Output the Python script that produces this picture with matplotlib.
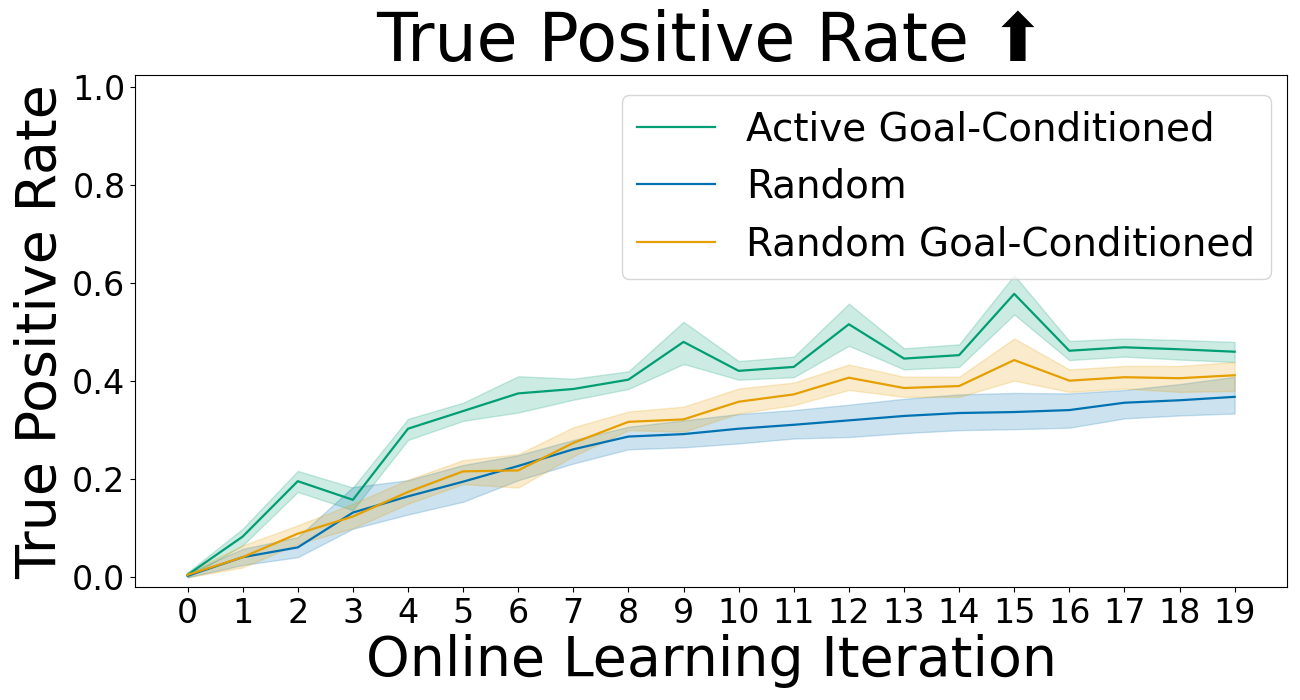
import matplotlib
matplotlib.use("Agg")
import matplotlib.pyplot as plt
import numpy as np

iterations = list(range(20))

active_gc_mean = [0.005, 0.083, 0.196, 0.158, 0.303, 0.339, 0.375, 0.384, 0.403, 0.480,
                  0.421, 0.429, 0.516, 0.446, 0.453, 0.578, 0.462, 0.469, 0.465, 0.460]
active_gc_low = [0.000, 0.065, 0.174, 0.137, 0.280, 0.319, 0.336, 0.362, 0.384, 0.435,
                 0.403, 0.408, 0.472, 0.424, 0.429, 0.536, 0.443, 0.450, 0.444, 0.439]
active_gc_high = [0.010, 0.099, 0.217, 0.183, 0.323, 0.356, 0.410, 0.405, 0.420, 0.521,
                  0.441, 0.450, 0.558, 0.467, 0.475, 0.616, 0.482, 0.487, 0.484, 0.480]

random_mean = [0.003, 0.041, 0.061, 0.132, 0.165, 0.195, 0.227, 0.261, 0.287, 0.292,
               0.303, 0.311, 0.320, 0.329, 0.335, 0.337, 0.341, 0.356, 0.361, 0.368]
random_low = [0.000, 0.025, 0.041, 0.099, 0.128, 0.154, 0.198, 0.232, 0.261, 0.265,
              0.273, 0.283, 0.286, 0.294, 0.300, 0.302, 0.305, 0.324, 0.330, 0.334]
random_high = [0.008, 0.058, 0.082, 0.184, 0.198, 0.229, 0.249, 0.280, 0.307, 0.320,
               0.333, 0.341, 0.352, 0.364, 0.373, 0.376, 0.375, 0.382, 0.394, 0.409]

random_gc_mean = [0.005, 0.041, 0.089, 0.124, 0.174, 0.216, 0.218, 0.274, 0.317, 0.322,
                  0.358, 0.373, 0.407, 0.386, 0.390, 0.443, 0.401, 0.408, 0.406, 0.412]
random_gc_low = [0.000, 0.020, 0.068, 0.100, 0.150, 0.190, 0.183, 0.247, 0.300, 0.297,
                 0.334, 0.351, 0.382, 0.368, 0.368, 0.401, 0.378, 0.385, 0.378, 0.380]
random_gc_high = [0.010, 0.065, 0.106, 0.150, 0.199, 0.239, 0.251, 0.306, 0.338, 0.348,
                  0.385, 0.397, 0.434, 0.409, 0.409, 0.487, 0.424, 0.431, 0.431, 0.439]

labels = ["Active Goal-Conditioned", "Random", "Random Goal-Conditioned"]
colors = ["#009E73", "#0072B2", "#E69F00"]

series = [
    (active_gc_mean, active_gc_low, active_gc_high),
    (random_mean, random_low, random_high),
    (random_gc_mean, random_gc_low, random_gc_high),
]

fig = plt.figure(figsize=(13, 7), dpi=100)
ax = fig.add_axes([0.104, 0.161, 0.886, 0.732])

for (m, lo, hi), lab, c in zip(series, labels, colors):
    ax.plot(iterations, m, color=c, lw=1.6, label=lab)
    ax.fill_between(iterations, lo, hi, color=c, alpha=0.2, lw=1)

ax.set_xticks(iterations)
ax.set_xticklabels([str(i) for i in iterations])
ax.set_yticks([0.0, 0.2, 0.4, 0.6, 0.8, 1.0])
ax.set_ylim(-0.0204, 1.0245)
ax.tick_params(labelsize=24)
ax.set_xlabel("Online Learning Iteration", fontsize=40, labelpad=3)
ax.set_ylabel("True Positive Rate", fontsize=40, labelpad=3)
ax.set_title("True Positive Rate \u2b06", fontsize=48, pad=5)
ax.legend(loc="upper right", fontsize=28, bbox_to_anchor=(1.0026, 0.999))

fig.savefig("out.png", dpi=100)
